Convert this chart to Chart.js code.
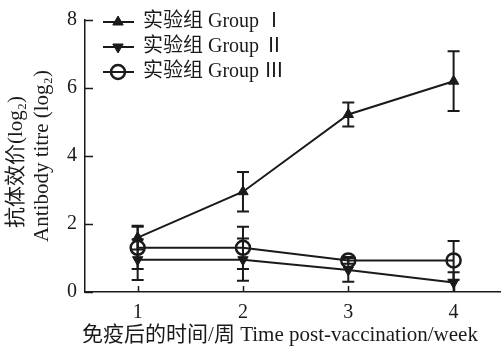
<!DOCTYPE html>
<html lang="zh">
<head>
  <meta charset="UTF-8">
  <title>抗体效价</title>
  <script src="https://cdn.jsdelivr.net/npm/chart.js"></script>
  <style>
    html, body { margin: 0; padding: 0; background: #fff; }
    #wrap { width: 501px; height: 347px; position: relative; }
  </style>
</head>
<body>
  <div id="wrap"><canvas id="chart"></canvas></div>

  <script>
    // data
    const weeks = [1, 2, 3, 4];
    const yTicks = [0, 2, 4, 6, 8];
    const groupNames = ['实验组 Group Ⅰ', '实验组 Group Ⅱ', '实验组 Group Ⅲ'];
    const group1 = [1.6, 2.95, 5.22, 6.2];
    const group1Err = [0.35, 0.58, 0.35, 0.88];
    const group2 = [0.95, 0.95, 0.65, 0.28];
    const group2Err = [0.6, 0.62, 0.35, 0.3];
    const group3 = [1.3, 1.3, 0.93, 0.93];
    const group3Err = [0.62, 0.62, 0.1, 0.57];

    const ink = '#1a1a1a';
    const serif = '"Liberation Serif", "Noto Sans CJK SC", serif';

    function pts(vals) { return vals.map((v, i) => ({ x: weeks[i], y: v })); }

    // error bars, ticks pointing inward, axis titles and legend
    const extras = {
      id: 'extras',
      afterDatasetsDraw(chart) {
        const ctx = chart.ctx, xs = chart.scales.x, ys = chart.scales.y;
        const area = chart.chartArea;
        ctx.save();
        ctx.beginPath();
        ctx.rect(area.left, 0, area.right - area.left, area.bottom);
        ctx.clip();
        ctx.strokeStyle = ink;
        ctx.lineWidth = 2;
        chart.data.datasets.forEach(ds => {
          ds.data.forEach((p, i) => {
            const e = ds.errors[i];
            const x = xs.getPixelForValue(p.x);
            const top = ys.getPixelForValue(p.y + e);
            const bot = ys.getPixelForValue(p.y - e);
            ctx.beginPath();
            ctx.moveTo(x, top); ctx.lineTo(x, bot);
            ctx.moveTo(x - 6, top); ctx.lineTo(x + 6, top);
            ctx.moveTo(x - 6, bot); ctx.lineTo(x + 6, bot);
            ctx.stroke();
          });
        });
        ctx.restore();
      },
      afterDraw(chart) {
        const ctx = chart.ctx, xs = chart.scales.x, ys = chart.scales.y;
        const area = chart.chartArea;
        ctx.save();
        ctx.strokeStyle = ink;
        ctx.lineWidth = 1.5;
        ctx.beginPath();
        yTicks.forEach(v => {
          const y = Math.round(ys.getPixelForValue(v)) + 0.5;
          ctx.moveTo(area.left, y); ctx.lineTo(area.left + 8, y);
        });
        weeks.forEach(v => {
          const x = Math.round(xs.getPixelForValue(v)) + 0.5;
          ctx.moveTo(x, area.bottom); ctx.lineTo(x, area.bottom - 6);
        });
        ctx.stroke();

        // axis titles
        ctx.fillStyle = ink;
        ctx.font = '21px ' + serif;
        ctx.textAlign = 'center';
        ctx.textBaseline = 'middle';
        ctx.fillText('免疫后的时间/周 Time post-vaccination/week', 280, 335);
        ctx.save();
        ctx.translate(16, 162);
        ctx.rotate(-Math.PI / 2);
        ctx.fillText('抗体效价(log₂)', 0, 0);
        ctx.restore();
        ctx.save();
        ctx.translate(42, 156);
        ctx.rotate(-Math.PI / 2);
        ctx.fillText('Antibody titre (log₂)', 0, 0);
        ctx.restore();

        // legend
        const rows = [22, 47, 72];
        ctx.font = '20px ' + serif;
        chart.data.datasets.forEach((ds, i) => {
          const y = rows[i];
          ctx.strokeStyle = ink;
          ctx.lineWidth = 2;
          ctx.beginPath();
          ctx.moveTo(103, y); ctx.lineTo(134, y);
          ctx.stroke();
          ctx.fillStyle = ds.pointBackgroundColor;
          ctx.lineWidth = ds.pointBorderWidth;
          Chart.helpers.drawPoint(ctx, {
            pointStyle: ds.pointStyle,
            rotation: ds.pointRotation || 0,
            radius: ds.pointRadius,
            borderWidth: ds.pointBorderWidth
          }, 118, y);
          ctx.fillStyle = ink;
          ctx.textAlign = 'left';
          ctx.fillText(ds.label, 143, y);
        });
        ctx.restore();
      }
    };

    const common = {
      borderColor: ink,
      borderWidth: 2,
      pointBorderColor: ink,
      tension: 0
    };

    new Chart(document.getElementById('chart'), {
      type: 'line',
      data: {
        datasets: [
          Object.assign({}, common, {
            label: groupNames[0], data: pts(group1), errors: group1Err,
            pointStyle: 'triangle', pointRadius: 6, pointBorderWidth: 1,
            pointBackgroundColor: ink
          }),
          Object.assign({}, common, {
            label: groupNames[1], data: pts(group2), errors: group2Err,
            pointStyle: 'triangle', pointRotation: 180, pointRadius: 6, pointBorderWidth: 1,
            pointBackgroundColor: ink
          }),
          Object.assign({}, common, {
            label: groupNames[2], data: pts(group3), errors: group3Err,
            pointStyle: 'circle', pointRadius: 7, pointBorderWidth: 2.5,
            pointBackgroundColor: 'rgba(0,0,0,0)'
          })
        ]
      },
      options: {
        responsive: true,
        maintainAspectRatio: false,
        animation: false,
        layout: { autoPadding: false, padding: { top: 13, right: 0, left: 0, bottom: 0 } },
        plugins: { legend: { display: false }, tooltip: { enabled: false } },
        scales: {
          x: {
            type: 'linear',
            min: 0.5,
            max: 4.45,
            afterBuildTicks: s => { s.ticks = weeks.map(v => ({ value: v })); },
            afterFit: s => { s.height = 55; },
            grid: { display: false, drawTicks: false },
            border: { display: true, color: ink, width: 1.5 },
            ticks: { color: ink, padding: 9, font: { family: serif, size: 20 } }
          },
          y: {
            min: 0,
            max: 8,
            afterBuildTicks: s => { s.ticks = yTicks.map(v => ({ value: v })); },
            afterFit: s => { s.width = 85; },
            grid: { display: false, drawTicks: false },
            border: { display: true, color: ink, width: 1.5 },
            ticks: { color: ink, padding: 8, font: { family: serif, size: 20 } }
          }
        }
      },
      plugins: [extras]
    });
  </script>
</body>
</html>
